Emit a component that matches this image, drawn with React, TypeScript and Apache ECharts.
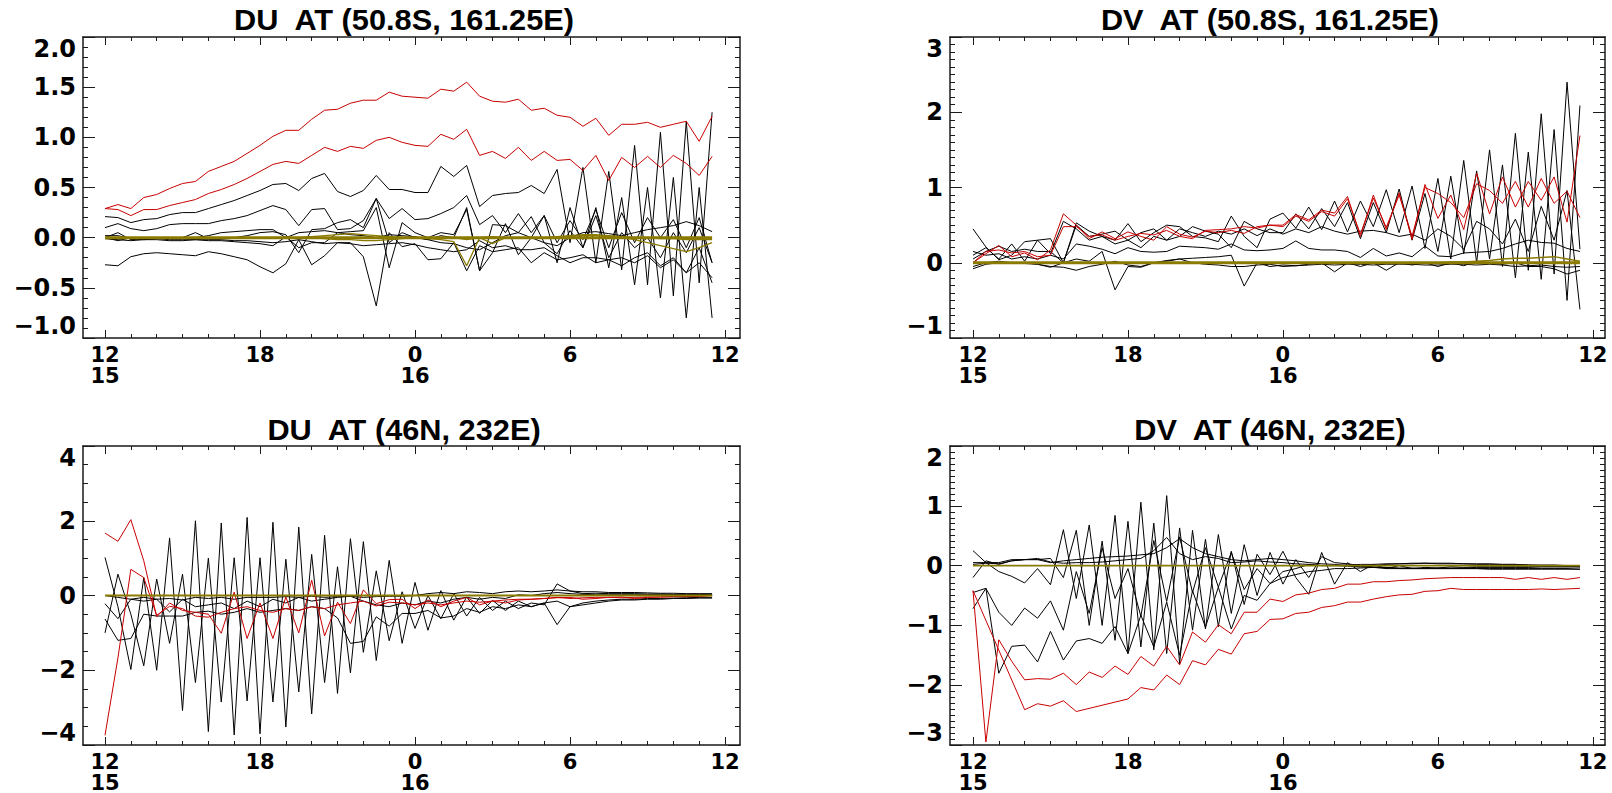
import React, { useEffect, useRef } from "react";
import * as echarts from "echarts";

// ---------- time axis (hours after 12 UTC on the 15th) ----------
const TIMES = [
  0, 0.5, 1, 1.5, 2, 2.5, 3, 3.5, 4, 4.5, 5, 5.5, 6, 6.5, 7, 7.5,
  8, 8.5, 9, 9.5, 10, 10.5, 11, 11.5, 12, 12.5, 13, 13.5, 14, 14.5, 15, 15.5,
  16, 16.5, 17, 17.5, 18, 18.5, 19, 19.5, 20, 20.5, 21, 21.5, 22, 22.5, 23, 23.5,
];
const HOUR_TICKS = [0, 6, 12, 18, 24];
const HOUR_LABELS = ["12\n15", "18", "0\n16", "6", "12"];
const MINOR_HOURS = [1, 2, 3, 4, 5, 7, 8, 9, 10, 11, 13, 14, 15, 16, 17, 19, 20, 21, 22, 23];

const TITLES = [
  "DU  AT (50.8S, 161.25E)",
  "DV  AT (50.8S, 161.25E)",
  "DU  AT (46N, 232E)",
  "DV  AT (46N, 232E)",
];

// ---------- DU at (50.8S, 161.25E) ----------
const tlRed1 = [
  0.29, 0.33, 0.29, 0.40, 0.43, 0.49, 0.54, 0.56,
  0.66, 0.71, 0.76, 0.84, 0.92, 1.01, 1.07, 1.07,
  1.18, 1.27, 1.28, 1.34, 1.37, 1.37, 1.45, 1.41,
  1.40, 1.39, 1.48, 1.46, 1.55, 1.41, 1.36, 1.35,
  1.38, 1.27, 1.29, 1.22, 1.20, 1.11, 1.19, 1.02,
  1.13, 1.13, 1.15, 1.10, 1.13, 1.16, 0.96, 1.21,
];
const tlRed2 = [
  0.29, 0.28, 0.22, 0.28, 0.28, 0.32, 0.35, 0.38,
  0.44, 0.48, 0.53, 0.59, 0.66, 0.73, 0.76, 0.74,
  0.82, 0.90, 0.86, 0.91, 0.89, 0.97, 1.00, 0.95,
  0.92, 0.91, 1.03, 0.98, 1.08, 0.82, 0.86, 0.79,
  0.90, 0.77, 0.86, 0.77, 0.78, 0.67, 0.82, 0.57,
  0.80, 0.70, 0.81, 0.70, 0.82, 0.74, 0.62, 0.81,
];
const tlBlk1 = [
  0.21, 0.20, 0.15, 0.18, 0.19, 0.23, 0.25, 0.25,
  0.29, 0.33, 0.37, 0.42, 0.47, 0.53, 0.54, 0.47,
  0.59, 0.64, 0.46, 0.41, 0.47, 0.62, 0.48, 0.48,
  0.45, 0.45, 0.71, 0.61, 0.72, 0.31, 0.42, 0.44,
  0.45, 0.52, 0.44, 0.68, -0.05, 0.70, -0.25, 0.66,
  -0.32, 0.92, -0.47, 1.05, -0.58, 1.16, -0.45, 1.25,
];
const tlBlk2 = [
  0.10, 0.14, 0.09, 0.07, 0.09, 0.13, 0.14, 0.14,
  0.14, 0.17, 0.19, 0.22, 0.27, 0.32, 0.28, 0.12,
  0.28, 0.29, 0.08, 0.09, 0.17, 0.39, 0.19, 0.29,
  0.18, 0.19, 0.24, 0.30, 0.42, 0.13, 0.22, 0.05,
  0.24, 0.05, 0.22, -0.05, 0.17, -0.02, 0.28, -0.10,
  0.25, -0.05, 0.20, 0.00, 0.18, -0.10, 0.20, -0.25,
];
const tlBlk3 = [
  -0.27, -0.28, -0.19, -0.16, -0.15, -0.16, -0.17, -0.18,
  -0.14, -0.16, -0.19, -0.22, -0.29, -0.35, -0.26, -0.02,
  -0.27, -0.18, -0.05, -0.05, -0.19, -0.68, 0.05, -0.09,
  -0.06, -0.22, -0.21, -0.05, -0.33, -0.08, -0.14, -0.12,
  -0.10, -0.25, -0.15, -0.22, -0.20, -0.17, -0.25, -0.22,
  -0.20, -0.25, -0.18, -0.30, -0.22, -0.35, -0.10, -0.45,
];
const tlBlk4 = [
  0.00, 0.05, -0.02, -0.01, 0.00, 0.00, 0.00, 0.05,
  -0.01, -0.01, 0.00, 0.02, 0.05, 0.06, 0.03, -0.15,
  0.08, 0.09, 0.15, 0.18, 0.10, 0.39, -0.05, 0.05,
  0.00, -0.02, 0.02, 0.00, 0.30, -0.33, 0.13, 0.12,
  0.05, 0.21, -0.05, -0.16, 0.07, -0.10, 0.22, -0.20,
  0.05, -0.10, 0.00, -0.20, 0.05, -0.15, 0.10, -0.25,
];
const tlBlk5 = [
  0.00, -0.03, 0.00, -0.01, -0.01, -0.02, -0.02, -0.02,
  -0.03, -0.03, -0.04, -0.05, -0.06, -0.08, 0.01, -0.10,
  -0.05, -0.05, 0.05, 0.06, 0.07, 0.30, -0.30, 0.15,
  0.05, 0.00, 0.05, 0.03, 0.28, -0.33, -0.15, 0.14,
  -0.17, 0.00, 0.22, -0.25, 0.30, -0.10, 0.30, -0.30,
  0.40, -0.47, 0.50, -0.60, 0.60, -0.80, 0.50, -0.80,
];
const tlBlk6 = [
  0.02, 0.02, -0.01, -0.02, -0.01, 0.00, 0.00, 0.00,
  0.02, 0.05, 0.06, 0.07, 0.08, 0.08, 0.00, 0.05,
  0.06, 0.07, 0.05, 0.03, 0.02, 0.00, 0.03, 0.02,
  0.01, -0.02, -0.05, -0.06, -0.10, -0.12, -0.05, 0.02,
  0.05, 0.00, -0.05, -0.08, 0.00, 0.05, 0.06, 0.04,
  0.02, 0.05, 0.08, 0.10, 0.12, 0.16, 0.12, 0.06,
];
const tlBlk7 = [
  -0.01, -0.02, -0.03, -0.02, -0.02, -0.03, -0.03, -0.02,
  -0.02, -0.02, -0.03, -0.03, -0.04, -0.05, -0.04, -0.02,
  -0.04, -0.06, -0.05, -0.06, -0.08, -0.07, -0.06, -0.05,
  -0.07, -0.10, -0.12, -0.14, -0.12, -0.03, -0.10, -0.08,
  -0.12, -0.12, -0.10, -0.18, -0.25, -0.20, -0.20, -0.22,
  -0.28, -0.20, -0.15, -0.28, -0.20, -0.35, -0.25, -0.40,
];
const tlOlv0 = [
  0, 0, 0, 0, 0, 0, 0, 0, 0, 0, 0, 0, 0, 0, 0, 0,
  0, 0, 0, 0, 0, 0, 0, 0, 0, 0, 0, 0, 0, 0, 0, 0,
  0, 0, 0, 0, 0, 0, 0, 0, 0, 0, 0, 0, 0, 0, 0, 0,
];
const tlOlv1 = [
  0, 0, 0, 0, 0, 0, 0, 0,
  0, 0, 0, 0, 0, 0, 0, 0,
  0, -0.01, -0.02, -0.02, -0.03, -0.03, -0.02, -0.01,
  0, -0.01, -0.02, -0.04, -0.28, 0.0, -0.06, 0.0,
  0, 0, 0, 0, 0.01, 0.02, 0.02, 0.01,
  0, -0.02, -0.05, -0.08, -0.11, -0.14, -0.10, -0.05,
];
const tlOlv2 = [
  0, 0, 0, 0, 0, 0, 0, 0,
  0, 0, 0, 0, 0, 0, 0, 0,
  0.01, 0.02, 0.03, 0.04, 0.03, 0.02, 0.01, 0,
  0, 0, 0, 0, -0.02, 0, 0.01, 0,
  0, 0, 0, 0.01, 0.02, 0.03, 0.03, 0.02,
  0.01, 0, 0, -0.01, -0.01, -0.02, -0.02, -0.02,
];

// ---------- DV at (50.8S, 161.25E) ----------
const trRed1 = [
  0.00, 0.12, 0.23, 0.08, 0.13, 0.04, 0.17, 0.65,
  0.50, 0.32, 0.41, 0.32, 0.41, 0.35, 0.30, 0.48,
  0.38, 0.34, 0.42, 0.40, 0.43, 0.39, 0.48, 0.50,
  0.50, 0.64, 0.57, 0.70, 0.66, 0.88, 0.35, 0.90,
  0.44, 0.93, 0.31, 1.04, 0.59, 0.90, 0.44, 1.19,
  0.65, 1.14, 0.74, 1.08, 0.83, 1.14, 0.54, 1.69,
];
const trRed2 = [
  0.00, 0.15, 0.17, 0.13, 0.15, 0.08, 0.10, 0.48,
  0.48, 0.35, 0.37, 0.30, 0.35, 0.39, 0.37, 0.43,
  0.35, 0.32, 0.43, 0.44, 0.45, 0.48, 0.46, 0.50,
  0.48, 0.62, 0.55, 0.68, 0.62, 0.85, 0.38, 0.86,
  0.47, 0.90, 0.35, 1.00, 0.92, 0.80, 0.60, 1.05,
  0.96, 0.79, 1.08, 0.74, 1.12, 0.79, 0.95, 0.60,
];
const trBlk1 = [
  0.45, 0.21, 0.04, 0.10, 0.28, 0.30, 0.12, 0.55,
  0.45, 0.30, 0.35, 0.30, 0.52, 0.28, 0.40, 0.50,
  0.48, 0.35, 0.33, 0.28, 0.62, 0.35, 0.20, 0.58,
  0.66, 0.46, 0.74, 0.44, 0.82, 0.41, 0.82, 0.48,
  0.97, 0.40, 1.02, 0.19, 1.12, 0.05, 1.36, 0.00,
  1.50, -0.05, 1.72, -0.10, 1.98, -0.15, 2.40, 0.18,
];
const trBlk2 = [
  0.10, 0.20, 0.05, 0.25, 0.02, 0.30, 0.32, 0.00,
  0.50, 0.35, 0.38, 0.42, 0.30, 0.40, 0.45, 0.30,
  0.35, 0.48, 0.42, 0.38, 0.20, 0.55, 0.45, 0.40,
  0.40, 0.65, 0.45, 0.72, 0.48, 0.80, 0.32, 0.80,
  0.40, 0.98, 0.30, 0.92, 0.15, 1.15, 0.12, 1.22,
  0.05, 1.30, -0.20, 1.47, -0.22, 1.77, -0.50, 2.09,
];
const trBlk3 = [
  0.05, 0.15, 0.22, 0.15, 0.18, 0.15, 0.15, 0.00,
  0.53, 0.42, 0.35, 0.25, 0.30, 0.20, 0.35, 0.30,
  0.45, 0.40, 0.35, 0.42, 0.38, 0.45, 0.36, 0.45,
  0.38, 0.45, 0.40, 0.48, 0.42, 0.38, 0.42, 0.43,
  0.40, 0.35, 0.38, 0.30, 0.45, 0.35, 0.18, 0.55,
  0.45, 0.25, 0.58, 0.15, 0.75, 0.30, 0.96, -0.62,
];
const trBlk4 = [
  0.15, 0.10, 0.12, 0.05, 0.08, 0.05, 0.10, 0.05,
  0.25, 0.22, 0.18, 0.12, 0.20, 0.15, 0.14, 0.15,
  0.22, 0.21, 0.20, 0.18, 0.25, 0.17, 0.16, 0.17,
  0.19, 0.29, 0.19, 0.17, 0.17, 0.15, 0.07, 0.19,
  0.09, 0.13, 0.08, 0.22, 0.09, 0.08, 0.13, 0.14,
  0.15, 0.19, 0.25, 0.30, 0.27, 0.26, 0.19, 0.15,
];
const trBlk5 = [
  -0.05, 0.00, 0.02, 0.00, -0.01, -0.02, -0.06, 0.00,
  0.05, 0.02, 0.15, -0.36, -0.05, -0.06, 0.00, 0.03,
  0.05, 0.06, 0.07, 0.08, 0.10, -0.31, 0.00, -0.05,
  -0.03, -0.04, -0.02, 0.00, -0.12, 0.00, -0.05, 0.00,
  -0.10, 0.00, -0.03, 0.00, -0.05, 0.00, -0.04, 0.02,
  0.00, -0.02, 0.00, -0.05, -0.05, -0.08, -0.15, -0.10,
];
const trBlk6 = [
  -0.08, -0.02, 0.00, 0.00, 0.00, -0.02, -0.05, -0.06,
  -0.10, -0.05, -0.02, 0.02, -0.03, -0.05, 0.00, 0.02,
  0.05, 0.00, -0.02, -0.03, -0.05, -0.05, -0.03, -0.02,
  -0.05, -0.04, -0.03, -0.02, -0.03, -0.02, -0.02, -0.03,
  -0.02, -0.02, -0.02, -0.03, -0.03, -0.02, -0.02, -0.03,
  -0.02, -0.03, -0.05, -0.04, -0.03, -0.05, -0.06, -0.05,
];
const trOlv0 = [
  0, 0, 0, 0, 0, 0, 0, 0, 0, 0, 0, 0, 0, 0, 0, 0,
  0, 0, 0, 0, 0, 0, 0, 0, 0, 0, 0, 0, 0, 0, 0, 0,
  0, 0, 0, 0, 0, 0, 0, 0, 0, 0, 0, 0, 0, 0, 0, 0,
];
const trOlv1 = [
  0, 0, 0, 0, 0, 0, 0, 0, 0, 0, 0, 0, 0, 0, 0, 0,
  0, 0, 0, 0, 0, 0, 0, 0, 0, 0, 0, 0, 0, 0, 0, 0,
  0, 0, 0, 0, 0, 0.01, 0.01, 0.02, 0.03, 0.05, 0.06, 0.06, 0.07, 0.08, 0.05, 0.02,
];

// ---------- DU at (46N, 232E) ----------
const blRed1 = [
  1.67, 1.45, 2.03, 0.93, -0.57, -0.20, -0.40, -0.45,
  -0.50, -1.01, 0.09, -1.15, -0.20, -1.15, -0.04, -1.00,
  0.41, -1.08, -0.18, -0.75, 0.15, -0.22, -0.11, -0.10,
  -0.35, -0.12, -0.30, -0.15, -0.05, -0.25, -0.15, -0.20,
  -0.12, -0.10, -0.08, -0.05, -0.08, -0.06, -0.05, -0.05,
  -0.04, -0.08, -0.05, -0.04, -0.03, -0.02, -0.02, 0.00,
];
const blRed2 = [
  -3.74, -1.67, 0.70, 0.48, -0.53, -0.29, -0.35, -0.55,
  -0.58, -0.45, -0.35, -0.30, -0.40, -0.45, -0.35, -0.40,
  -0.30, -0.35, -0.25, -0.20, -0.15, -0.28, -0.18, -0.20,
  -0.25, -0.20, -0.25, -0.20, -0.15, -0.18, -0.15, -0.12,
  -0.10, -0.10, -0.08, -0.06, -0.05, -0.10, -0.08, -0.05,
  -0.06, -0.05, -0.04, -0.04, -0.03, -0.03, -0.02, 0.00,
];
const blBlkA = [
  1.02, -0.30, -1.98, 0.48, -2.00, 1.54, -3.08, 2.00,
  -3.64, 1.94, -3.73, 2.09, -3.70, 1.96, -3.52, 1.83,
  -3.17, 1.61, -2.62, 1.52, -1.52, 0.66, -1.21, 0.10,
  -0.88, 0.00, -0.62, 0.05, -0.55, -0.05, -0.40, -0.15,
  -0.35, -0.20, -0.25, 0.31, 0.12, 0.05, 0.06, 0.05,
  0.05, 0.05, 0.04, 0.04, 0.03, 0.03, 0.03, 0.02,
];
const blBlkB = [
  -1.00, 0.57, -0.50, -1.88, 0.44, -1.28, 0.57, -2.33,
  1.00, -2.85, 1.01, -2.82, 1.01, -2.85, 0.97, -2.58,
  1.10, -2.33, 0.77, -2.07, 1.44, -1.74, 0.94, -1.28,
  0.35, -0.93, 0.13, -0.66, -0.04, -0.48, -0.13, -0.40,
  -0.15, -0.30, -0.20, -0.78, -0.30, -0.20, -0.15, -0.12,
  -0.10, -0.10, -0.08, -0.08, -0.07, -0.06, -0.05, -0.05,
];
const blBlk3 = [
  -0.63, -1.20, -1.15, -0.50, -0.55, -0.55, -0.55, -0.45,
  -0.42, -0.50, -0.45, -0.35, -0.45, -0.40, -0.35, -0.40,
  -0.30, -0.35, -0.60, -1.28, -1.23, -0.57, -0.82, -0.48,
  -0.48, -0.40, -0.60, -0.55, -0.35, -0.45, -0.30, -0.35,
  -0.25, -0.30, -0.20, -0.15, -0.30, -0.25, -0.20, -0.15,
  -0.12, -0.12, -0.10, -0.10, -0.08, -0.08, -0.07, -0.07,
];
const blBlk4 = [
  -0.22, -0.62, -0.10, -0.05, -0.10, -0.44, -0.10, -0.30,
  -0.25, -0.20, -0.35, -0.15, -0.30, -0.10, -0.20, -0.05,
  -0.15, -0.10, -0.05, -0.02, -0.15, -0.25, -0.30, -0.20,
  -0.25, -0.15, -0.20, -0.10, -0.05, -0.10, -0.05, -0.08,
  0.02, 0.00, 0.05, 0.08, 0.05, 0.03, 0.02, 0.02,
  0.02, 0.02, 0.02, 0.02, 0.01, 0.01, 0.01, 0.01,
];
const blBlk5 = [
  0.00, -0.05, -0.10, -0.15, -0.10, -0.08, -0.12, -0.05,
  -0.08, -0.05, -0.10, -0.05, -0.05, -0.05, -0.03, -0.05,
  -0.02, -0.05, -0.03, -0.02, -0.05, -0.03, -0.02, -0.02,
  0.00, 0.05, 0.08, 0.05, 0.10, 0.08, 0.05, 0.10,
  0.12, 0.10, 0.12, 0.15, 0.12, 0.10, 0.10, 0.08,
  0.08, 0.08, 0.07, 0.06, 0.06, 0.05, 0.05, 0.05,
];
const blOlv0 = [
  0, 0, 0, 0, 0, 0, 0, 0, 0, 0, 0, 0, 0, 0, 0, 0,
  0, 0, 0, 0, 0, 0, 0, 0, 0, 0, 0, 0, 0, 0, 0, 0,
  0, 0, 0, 0, 0, 0, 0, 0, 0, 0, 0, 0, 0, 0, 0, 0,
];

// ---------- DV at (46N, 232E) ----------
const brRed1 = [
  -0.42, -2.95, -1.24, -1.60, -1.91, -1.89, -1.90, -1.80,
  -1.99, -1.78, -1.87, -1.68, -1.82, -1.52, -1.68, -1.35,
  -1.66, -1.11, -1.28, -0.99, -1.14, -0.78, -0.78, -0.56,
  -0.60, -0.49, -0.46, -0.40, -0.38, -0.31, -0.31, -0.27,
  -0.27, -0.25, -0.24, -0.22, -0.21, -0.20, -0.20, -0.20,
  -0.20, -0.20, -0.23, -0.20, -0.23, -0.20, -0.23, -0.20,
];
const brRed2 = [
  -0.42, null, null, null, -2.41, -2.31, -2.35, -2.26,
  -2.44, null, null, null, -2.23, -2.04, -2.08, -1.83,
  -1.99, -1.59, -1.66, -1.40, -1.48, -1.14, -1.10, -0.90,
  -0.89, -0.80, -0.78, -0.70, -0.67, -0.61, -0.61, -0.56,
  -0.52, -0.49, -0.48, -0.43, -0.42, -0.38, -0.40, -0.40,
  -0.40, -0.40, -0.40, -0.40, -0.39, -0.40, -0.39, -0.38,
];
const brBlk1 = [
  -0.72, -0.38, -1.80, -1.35, -1.33, -1.61, -1.10, -1.58,
  -1.26, -1.22, -1.30, -1.02, -1.47, -0.83, -1.36, -0.61,
  -1.50, -0.42, -1.03, -0.36, -1.06, -0.50, -0.58, -0.30,
  -0.20, -0.15, -0.10, -0.08, -0.05, -0.05, -0.04, -0.03,
  -0.03, -0.04, -0.04, -0.05, -0.05, -0.05, -0.05, -0.05,
  -0.05, -0.05, -0.05, -0.05, -0.05, -0.05, -0.05, -0.06,
];
const brBlk2 = [
  -0.45, -0.38, -0.78, -1.00, -0.71, -0.88, -0.59, -1.08,
  -0.10, -0.80, 0.30, -0.55, -0.05, -0.85, 0.42, -0.60,
  0.48, -0.45, 0.30, -0.36, 0.22, -0.40, -0.05, -0.30,
  -0.10, -0.05, 0.02, 0.00, 0.00, 0.01, 0.02, 0.02,
  0.03, 0.03, 0.04, 0.04, 0.03, 0.03, 0.03, 0.02,
  0.02, 0.02, 0.02, 0.01, 0.01, 0.01, 0.00, 0.00,
];
const brBlkP = [
  0.25, 0.05, -0.10, -0.18, -0.29, -0.05, -0.32, 0.60,
  -0.55, 0.68, -1.00, 0.84, -1.47, 1.06, -1.41, 1.17,
  -1.64, 0.59, -1.06, 0.52, -0.80, 0.35, -0.50, 0.22,
  -0.31, 0.10, -0.20, 0.15, 0.05, 0.03, 0.00, -0.02,
  -0.03, -0.05, -0.05, -0.05, -0.04, -0.04, -0.04, -0.03,
  -0.03, -0.03, -0.03, -0.03, -0.02, -0.02, -0.02, -0.02,
];
const brBlkQ = [
  -0.20, 0.08, 0.02, 0.08, 0.10, 0.10, 0.12, -0.20,
  0.59, -1.00, 0.41, -1.25, 0.74, -1.36, 0.71, -1.47,
  0.63, -1.08, 0.44, -1.02, 0.24, -0.65, 0.19, -0.15,
  0.24, -0.20, -0.48, 0.22, -0.31, 0.05, -0.10, 0.02,
  -0.05, 0.00, -0.05, -0.03, -0.04, -0.02, -0.03, -0.02,
  -0.02, -0.02, -0.02, -0.02, -0.02, -0.02, -0.02, -0.02,
];
const brBlk5 = [
  0.05, 0.05, 0.05, 0.10, 0.10, 0.10, 0.05, 0.08,
  0.10, 0.12, 0.14, 0.15, 0.16, 0.18, 0.20, 0.30,
  0.45, 0.30, 0.20, 0.15, 0.10, 0.08, 0.10, 0.12,
  0.10, 0.08, 0.05, 0.03, 0.02, 0.00, -0.02, -0.03,
  -0.05, -0.05, -0.05, -0.05, -0.05, -0.05, -0.05, -0.05,
  -0.06, -0.06, -0.06, -0.06, -0.06, -0.06, -0.06, -0.06,
];
const brBlk6 = [
  0.02, 0.04, 0.03, 0.08, 0.10, 0.12, 0.06, 0.04,
  0.05, 0.05, 0.06, 0.08, 0.10, 0.12, 0.25, 0.47,
  0.20, 0.10, 0.15, 0.12, 0.05, 0.06, 0.08, 0.06,
  0.05, 0.03, 0.02, 0.00, 0.00, -0.01, -0.02, 0.00,
  0.02, 0.03, 0.03, 0.04, 0.04, 0.04, 0.03, 0.03,
  0.03, 0.02, 0.02, 0.01, 0.00, 0.00, -0.01, -0.02,
];
const brOlv0 = [
  0, 0, 0, 0, 0, 0, 0, 0, 0, 0, 0, 0, 0, 0, 0, 0,
  0, 0, 0, 0, 0, 0, 0, 0, 0, 0, 0, 0, 0, 0, 0, 0,
  0, 0, 0, 0, 0, 0, 0, 0, 0, 0, 0, 0, 0, 0, 0, 0,
];

// ---------- styling ----------
const LABEL_FONT = "DejaVu Sans";
const TITLE_FONT = "Liberation Sans";
const BOX = "#1a1a1a";
const BLACK = "#000000";
const RED = "#c80000";
const OLIVE = "#8a7a00";

type LineDef = { data: (number | null)[]; kind: "blk" | "red" | "olv" | "olvThick" };

const PANELS = [
  {
    grid: { left: 83, top: 37, width: 657, height: 301 },
    xMin: -0.852, xMax: 24.58,
    y: { min: -1, max: 2, interval: 0.5, minor: 5, dec: 1 },
    title: { x: 404, y: 20 },
    zeroWidth: 3,
    lines: [
      { data: tlBlk1, kind: "blk" }, { data: tlBlk2, kind: "blk" }, { data: tlBlk3, kind: "blk" },
      { data: tlBlk4, kind: "blk" }, { data: tlBlk5, kind: "blk" }, { data: tlBlk6, kind: "blk" },
      { data: tlBlk7, kind: "blk" },
      { data: tlRed1, kind: "red" }, { data: tlRed2, kind: "red" },
      { data: tlOlv1, kind: "olv" }, { data: tlOlv2, kind: "olv" }, { data: tlOlv0, kind: "olvThick" },
    ] as LineDef[],
  },
  {
    grid: { left: 950, top: 37, width: 655, height: 301 },
    xMin: -0.89, xMax: 24.47,
    y: { min: -1, max: 3, interval: 1, minor: 10, dec: 0 },
    title: { x: 1270, y: 20 },
    zeroWidth: 3,
    lines: [
      { data: trBlk1, kind: "blk" }, { data: trBlk2, kind: "blk" }, { data: trBlk3, kind: "blk" },
      { data: trBlk4, kind: "blk" }, { data: trBlk5, kind: "blk" }, { data: trBlk6, kind: "blk" },
      { data: trRed1, kind: "red" }, { data: trRed2, kind: "red" },
      { data: trOlv1, kind: "olv" }, { data: trOlv0, kind: "olvThick" },
    ] as LineDef[],
  },
  {
    grid: { left: 83, top: 446, width: 657, height: 301 },
    xMin: -0.852, xMax: 24.58,
    y: { min: -4, max: 4, interval: 2, minor: 4, dec: 0 },
    title: { x: 404, y: 430 },
    zeroWidth: 2,
    lines: [
      { data: blBlkA, kind: "blk" }, { data: blBlkB, kind: "blk" }, { data: blBlk3, kind: "blk" },
      { data: blBlk4, kind: "blk" }, { data: blBlk5, kind: "blk" },
      { data: blRed1, kind: "red" }, { data: blRed2, kind: "red" },
      { data: blOlv0, kind: "olvThick" },
    ] as LineDef[],
  },
  {
    grid: { left: 950, top: 446, width: 655, height: 301 },
    xMin: -0.89, xMax: 24.47,
    y: { min: -3, max: 2, interval: 1, minor: 10, dec: 0 },
    title: { x: 1270, y: 430 },
    zeroWidth: 1.6,
    lines: [
      { data: brBlk1, kind: "blk" }, { data: brBlk2, kind: "blk" }, { data: brBlkP, kind: "blk" },
      { data: brBlkQ, kind: "blk" }, { data: brBlk5, kind: "blk" }, { data: brBlk6, kind: "blk" },
      { data: brRed1, kind: "red" }, { data: brRed2, kind: "red" },
      { data: brOlv0, kind: "olvThick" },
    ] as LineDef[],
  },
];

function fmtNum(v: number, dec: number) {
  const s = Math.abs(v) < 1e-9 ? (0).toFixed(dec) : v.toFixed(dec);
  return s.replace("-", "\u2212");
}

function buildOption() {
  const grid: any[] = [];
  const xAxis: any[] = [];
  const yAxis: any[] = [];
  const series: any[] = [];
  const graphic: any[] = [];
  const lineStyle = { color: BOX, width: 1.5 };
  const tickStyle = { color: BOX, width: 1 };

  PANELS.forEach((p, k) => {
    grid.push({ ...p.grid, containLabel: false });
    const xc = {
      gridIndex: k, type: "value", min: p.xMin, max: p.xMax,
      splitLine: { show: false }, minorTick: { show: false },
    };
    xAxis.push({
      ...xc, position: "bottom",
      axisLine: { show: true, onZero: false, lineStyle },
      axisTick: { show: true, inside: true, length: 8, customValues: HOUR_TICKS, lineStyle: tickStyle },
      axisLabel: {
        show: true, customValues: HOUR_TICKS,
        formatter: (v: number) => {
          const i = HOUR_TICKS.indexOf(Math.round(v));
          return i >= 0 ? HOUR_LABELS[i] : "";
        },
        color: "#000", fontFamily: LABEL_FONT, fontWeight: "bold", fontSize: 21, lineHeight: 21, margin: 6,
      },
    });
    xAxis.push({
      ...xc, position: "bottom",
      axisLine: { show: false, onZero: false },
      axisTick: { show: true, inside: true, length: 4, customValues: MINOR_HOURS, lineStyle: tickStyle },
      axisLabel: { show: false },
    });
    xAxis.push({
      ...xc, position: "top",
      axisLine: { show: true, onZero: false, lineStyle },
      axisTick: { show: true, inside: true, length: 8, customValues: HOUR_TICKS, lineStyle: tickStyle },
      axisLabel: { show: false },
    });
    xAxis.push({
      ...xc, position: "top",
      axisLine: { show: false, onZero: false },
      axisTick: { show: true, inside: true, length: 4, customValues: MINOR_HOURS, lineStyle: tickStyle },
      axisLabel: { show: false },
    });

    const yc = {
      gridIndex: k, type: "value", min: p.y.min, max: p.y.max, interval: p.y.interval,
      splitLine: { show: false },
      minorTick: { show: true, splitNumber: p.y.minor, length: 5, lineStyle: tickStyle },
      minorSplitLine: { show: false },
    };
    yAxis.push({
      ...yc, position: "left",
      axisLine: { show: true, onZero: false, lineStyle },
      axisTick: { show: true, inside: true, length: 12, lineStyle: tickStyle },
      axisLabel: {
        show: true, formatter: (v: number) => fmtNum(v, p.y.dec),
        color: "#000", fontFamily: LABEL_FONT, fontWeight: "bold", fontSize: 24, margin: 7,
        verticalAlignMinLabel: "bottom", verticalAlignMaxLabel: "top",
      },
    });
    yAxis.push({
      ...yc, position: "right",
      axisLine: { show: true, onZero: false, lineStyle },
      axisTick: { show: true, inside: true, length: 12, lineStyle: tickStyle },
      axisLabel: { show: false },
    });

    p.lines.forEach((l) => {
      const color = l.kind === "blk" ? BLACK : l.kind === "red" ? RED : OLIVE;
      const width = l.kind === "olvThick" ? p.zeroWidth : l.kind === "olv" ? 1.3 : 1;
      const z = l.kind === "blk" ? 2 : l.kind === "red" ? 3 : 4;
      series.push({
        type: "line",
        xAxisIndex: k * 4,
        yAxisIndex: k * 2,
        data: l.data.map((v, i) => [TIMES[i], v === null ? null : v]),
        showSymbol: false,
        symbol: "none",
        connectNulls: true,
        silent: true,
        z,
        lineStyle: { color, width },
        clip: true,
      });
    });

    graphic.push({
      type: "text",
      x: p.title.x,
      y: p.title.y,
      scaleX: 1.06,
      style: {
        text: TITLES[k],
        fill: "#000",
        fontFamily: TITLE_FONT,
        fontWeight: "bold",
        fontSize: 29,
        textAlign: "center",
        textVerticalAlign: "middle",
      },
    });
  });

  return {
    animation: false,
    backgroundColor: "#ffffff",
    grid,
    xAxis,
    yAxis,
    series,
    graphic,
  };
}

export default function App() {
  const ref = useRef<HTMLDivElement>(null);
  useEffect(() => {
    if (!ref.current) return;
    const chart = echarts.init(ref.current, undefined, { renderer: "svg" });
    chart.setOption(buildOption() as any);
    return () => chart.dispose();
  }, []);
  return (
    <div
      ref={ref}
      style={{ position: "absolute", left: 0, top: 0, width: 1612, height: 793, background: "#fff" }}
    />
  );
}
